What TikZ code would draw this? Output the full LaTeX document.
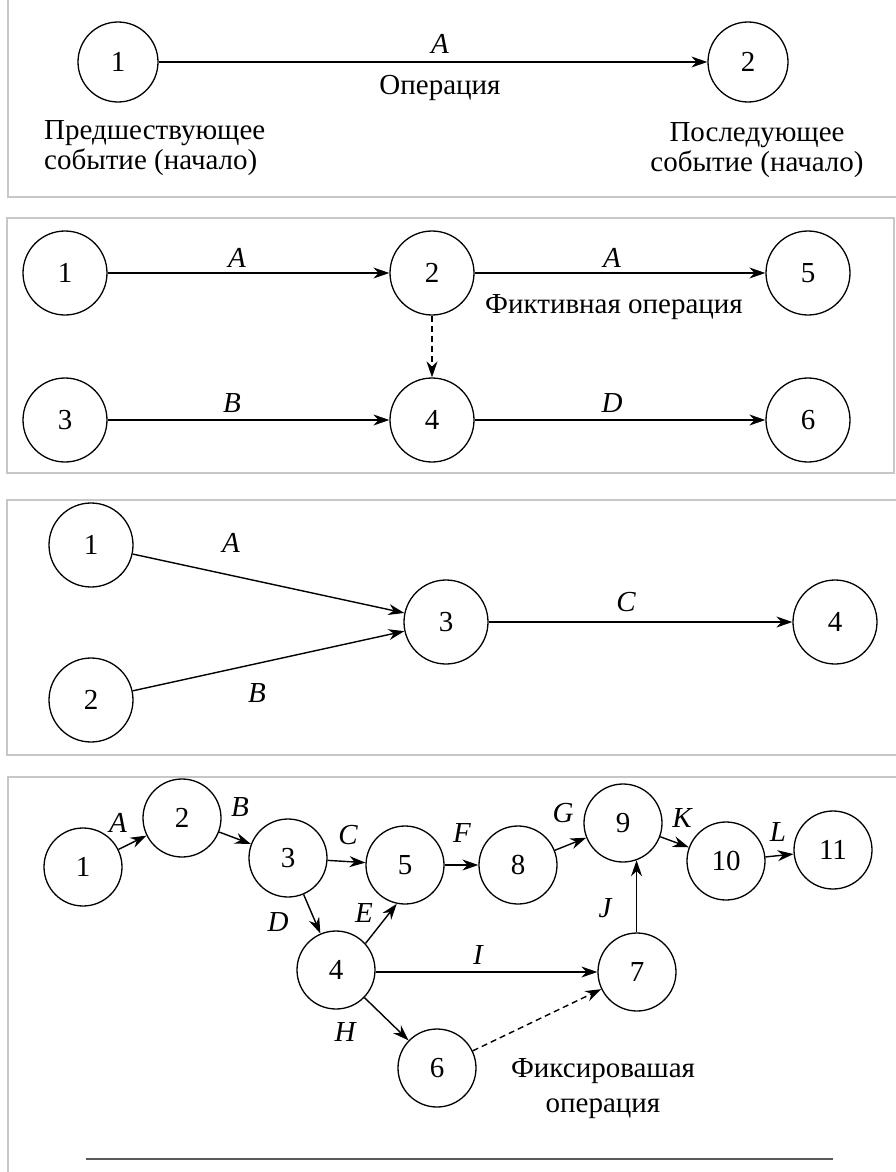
\documentclass[tikz,border=0pt]{standalone}
\usepackage{fontspec}
\setmainfont{Liberation Serif}
\usetikzlibrary{arrows.meta}
\begin{document}
\begin{tikzpicture}[x=1pt,y=-1pt,
  ev/.style={circle,draw,line width=1.3pt,inner sep=0pt,minimum size=#1,font=\fontsize{29}{32}\selectfont},
  ev/.default=84pt,
  arr/.style={line width=1.4pt,-{Stealth[length=16pt,width=11pt]}},
  fict/.style={arr,dash pattern=on 6pt off 4pt},
  lbl/.style={font=\fontsize{29}{32}\selectfont\itshape,inner sep=0pt},
  txt/.style={font=\fontsize{29}{30}\selectfont,inner sep=0pt},
  frame/.style={draw=black!22,line width=1.3pt}]
\useasboundingbox (0,0) rectangle (896,1172);
\clip (0,0) rectangle (896,1172);
% frames
\draw[frame] (8,-5) -- (8,197) -- (900,197);
\draw[frame] (7,218) rectangle (894,473);
\draw[frame] (900,500) -- (7,500) -- (7,755) -- (900,755);
\draw[frame] (900,777) -- (8,777) -- (8,1180);

% ---- panel 1
\node[ev=80pt] (a1) at (118,62) {1};
\node[ev=80pt] (a2) at (748,62) {2};
\draw[arr] (a1) -- (a2);
\node[lbl] (aA) at (440,44) {A};
\node[txt] (aop) at (440,88) {Операция};
\node[txt,anchor=west,align=left] (apre) at (44,148) {Предшествующее\\событие (начало)};
\node[txt,align=center] (apost) at (757,150) {Последующее\\событие (начало)};

% ---- panel 2
\node[ev] (b1) at (65,273) {1};
\node[ev] (b2) at (432,273) {2};
\node[ev] (b5) at (808,273) {5};
\node[ev] (b3) at (65,420) {3};
\node[ev] (b4) at (432,420) {4};
\node[ev] (b6) at (808,420) {6};
\draw[arr] (b1) -- (b2);
\draw[arr] (b2) -- (b5);
\draw[arr] (b3) -- (b4);
\draw[arr] (b4) -- (b6);
\draw[fict] (b2) -- (b4);
\node[lbl] (bA1) at (237,258) {A};
\node[lbl] (bA2) at (612,258) {A};
\node[lbl] (bB) at (232,403) {B};
\node[lbl] (bD) at (612,403) {D};
\node[txt] (bfict) at (614,307) {Фиктивная операция};

% ---- panel 3
\node[ev] (c1) at (91,545) {1};
\node[ev] (c2) at (91,700) {2};
\node[ev] (c3) at (446,622) {3};
\node[ev] (c4) at (835,622) {4};
\draw[arr] (c1) -- (c3);
\draw[arr] (c2) -- (c3);
\draw[arr] (c3) -- (c4);
\node[lbl] (cA) at (231,543) {A};
\node[lbl] (cB) at (257,693) {B};
\node[lbl] (cC) at (626,602) {C};

% ---- panel 4
\node[ev=78pt] (d1) at (83,867) {1};
\node[ev=78pt] (d2) at (182,818) {2};
\node[ev=78pt] (d3) at (288,858) {3};
\node[ev=78pt] (d5) at (405,865) {5};
\node[ev=78pt] (d4) at (336,970) {4};
\node[ev=78pt] (d6) at (437,1068) {6};
\node[ev=78pt] (d8) at (518,865) {8};
\node[ev=78pt] (d9) at (623,823) {9};
\node[ev=78pt] (d10) at (726,861) {10};
\node[ev=78pt] (d11) at (833,850) {11};
\node[ev=78pt] (d7) at (637,972) {7};
\draw[arr] (d1) -- (d2);
\draw[arr] (d2) -- (d3);
\draw[arr] (d3) -- (d5);
\draw[arr] (d3) -- (d4);
\draw[arr] (d4.42) -- (d5.-102);
\draw[arr] (d4.east |- d7.west) -- (d7.west);
\draw[arr] (d4) -- (d6);
\draw[fict] (d6) -- (d7);
\draw[arr] (d5) -- (d8);
\draw[arr] (d8) -- (d9);
\draw[arr] (d9.-70 |- d7.north) -- (d9.-70);
\draw[arr] (d9) -- (d10);
\draw[arr] (d10) -- (d11);
\node[lbl] (dA) at (118,823) {A};
\node[lbl] (dB) at (240,807) {B};
\node[lbl] (dC) at (348,835) {C};
\node[lbl] (dD) at (278,922) {D};
\node[lbl] (dE) at (364,913) {E};
\node[lbl] (dH) at (345,1032) {H};
\node[lbl] (dI) at (478,955) {I};
\node[lbl] (dF) at (462,833) {F};
\node[lbl] (dG) at (563,813) {G};
\node[lbl] (dK) at (682,818) {K};
\node[lbl] (dL) at (778,832) {L};
\node[lbl] (dJ) at (605,908) {J};
\node[txt,align=center,font=\fontsize{29}{35}\selectfont] (dfict) at (603,1089) {Фиксировашая\\операция};
\draw[line width=2pt,black!65] (86,1159) -- (833,1159);
\end{tikzpicture}
\end{document}
